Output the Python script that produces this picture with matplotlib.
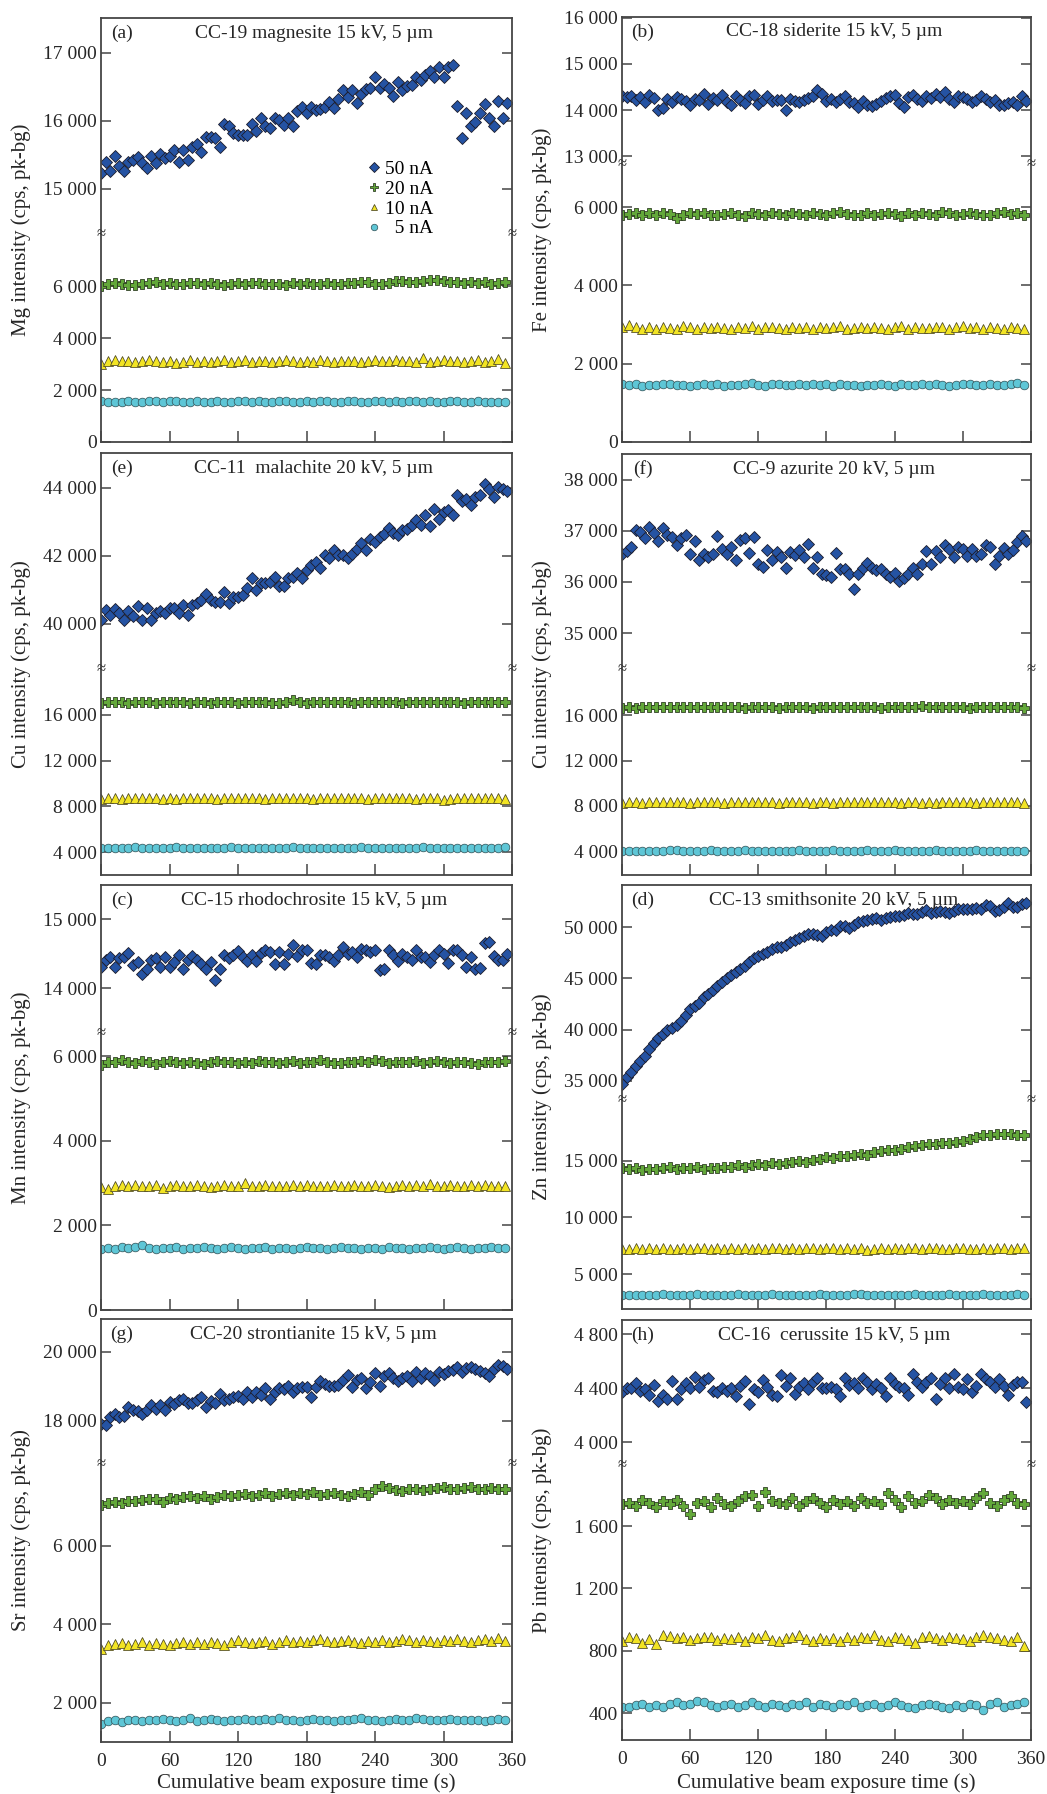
import numpy as np
import matplotlib.pyplot as plt
from matplotlib.lines import Line2D
from matplotlib.ticker import FuncFormatter

plt.rcParams['font.family'] = ['Liberation Serif', 'DejaVu Serif']

# sampling step of the time series (s)
STEP_HI = 4   # 50 nA
STEP_LO = 6   # 20, 10 and 5 nA

# (a) CC-19 magnesite, Mg
mg_50 = [15230, 15390, 15270, 15480, 15340, 15260, 15390, 15420, 15470, 15380,
         15310, 15490, 15380, 15520, 15450, 15480, 15570, 15400, 15570, 15430,
         15620, 15660, 15540, 15770, 15760, 15750, 15620, 15960, 15920, 15820,
         15800, 15790, 15800, 15960, 15850, 16040, 15920, 15900, 16040, 16010,
         15940, 16040, 15920, 16140, 16200, 16110, 16200, 16160, 16170, 16210,
         16280, 16190, 16320, 16450, 16350, 16450, 16260, 16400, 16470, 16480,
         16650, 16480, 16550, 16480, 16360, 16570, 16450, 16520, 16530, 16650,
         16600, 16670, 16740, 16650, 16800, 16650, 16790, 16830, 16220, 15750,
         16110, 15930, 15980, 16110, 16250, 16040, 15920, 16300, 16050, 16270]
mg_20 = [6000, 6080, 6100, 6060, 6050, 6040, 6080, 6120, 6150, 6070,
         6100, 6080, 6060, 6120, 6100, 6090, 6130, 6080, 6040, 6090,
         6110, 6070, 6100, 6120, 6080, 6060, 6090, 6050, 6100, 6080,
         6120, 6090, 6060, 6100, 6070, 6080, 6120, 6100, 6140, 6150,
         6080, 6060, 6120, 6180, 6200, 6160, 6150, 6190, 6230, 6240,
         6200, 6150, 6170, 6130, 6150, 6120, 6150, 6060, 6130, 6150]
mg_10 = [3000, 3120, 3140, 3100, 3110, 3060, 3130, 3160, 3120, 3080,
         3100, 3050, 3090, 3140, 3080, 3100, 3060, 3110, 3140, 3090,
         3100, 3150, 3090, 3110, 3130, 3080, 3110, 3140, 3100, 3090,
         3120, 3080, 3150, 3110, 3060, 3100, 3120, 3130, 3090, 3110,
         3140, 3120, 3100, 3160, 3110, 3130, 3090, 3220, 3080, 3120,
         3140, 3100, 3130, 3060, 3100, 3140, 3080, 3110, 3180, 3050]
mg_5 = [1560, 1540, 1550, 1530, 1570, 1550, 1540, 1560, 1580, 1550,
        1560, 1590, 1540, 1550, 1570, 1550, 1530, 1560, 1550, 1540,
        1570, 1590, 1550, 1560, 1540, 1550, 1560, 1570, 1550, 1540,
        1560, 1550, 1580, 1560, 1540, 1550, 1570, 1560, 1530, 1550,
        1580, 1560, 1550, 1570, 1540, 1560, 1580, 1550, 1560, 1540,
        1550, 1560, 1570, 1550, 1540, 1560, 1550, 1540, 1550, 1530]

# (b) CC-18 siderite, Fe
fe_50 = [14300, 14280, 14310, 14220, 14290, 14180, 14320, 14270, 14000, 14050,
         14250, 14170, 14280, 14230, 14200, 14110, 14250, 14210, 14340, 14140,
         14260, 14210, 14320, 14180, 14120, 14300, 14210, 14160, 14300, 14330,
         14130, 14220, 14300, 14190, 14210, 14220, 14000, 14250, 14200, 14180,
         14220, 14260, 14300, 14440, 14350, 14200, 14250, 14170, 14240, 14300,
         14180, 14150, 14060, 14200, 14100, 14090, 14130, 14200, 14270, 14300,
         14330, 14160, 14070, 14290, 14320, 14240, 14200, 14300, 14260, 14340,
         14280, 14400, 14250, 14180, 14300, 14290, 14250, 14180, 14210, 14300,
         14250, 14170, 14210, 14120, 14100, 14150, 14170, 14120, 14310, 14190]
fe_20 = [5800, 5830, 5860, 5810, 5850, 5790, 5840, 5820, 5730, 5810,
         5860, 5820, 5840, 5800, 5790, 5830, 5850, 5810, 5780, 5840,
         5820, 5800, 5850, 5830, 5790, 5860, 5820, 5810, 5850, 5830,
         5800, 5840, 5870, 5820, 5790, 5810, 5840, 5800, 5830, 5860,
         5820, 5780, 5840, 5810, 5850, 5830, 5800, 5880, 5840, 5810,
         5830, 5860, 5820, 5800, 5790, 5840, 5870, 5820, 5850, 5800]
fe_10 = [2950, 2980, 2940, 2900, 2930, 2880, 2950, 2920, 2900, 2960,
         2930, 2890, 2940, 2910, 2950, 2920, 2880, 2940, 2920, 2960,
         2900, 2930, 2950, 2910, 2880, 2930, 2920, 2950, 2900, 2940,
         2910, 2930, 2960, 2890, 2920, 2940, 2910, 2950, 2920, 2880,
         2930, 2960, 2900, 2940, 2920, 2910, 2950, 2930, 2890, 2940,
         2960, 2910, 2930, 2900, 2950, 2920, 2880, 2940, 2910, 2890]
fe_5 = [1480, 1460, 1470, 1440, 1460, 1450, 1470, 1480, 1450, 1460,
        1440, 1450, 1470, 1460, 1480, 1440, 1460, 1450, 1470, 1500,
        1450, 1440, 1470, 1480, 1460, 1450, 1470, 1460, 1490, 1450,
        1470, 1430, 1480, 1460, 1450, 1420, 1460, 1450, 1470, 1460,
        1440, 1470, 1460, 1450, 1490, 1460, 1470, 1450, 1440, 1460,
        1480, 1470, 1460, 1450, 1470, 1460, 1450, 1480, 1500, 1450]

# (e) CC-11 malachite, Cu
mal_50 = [40120, 40410, 40270, 40430, 40310, 40120, 40370, 40220, 40540, 40120,
          40460, 40120, 40310, 40370, 40310, 40460, 40460, 40310, 40560, 40270,
          40560, 40610, 40700, 40880, 40700, 40650, 40650, 40950, 40610, 40800,
          40780, 40850, 41050, 41340, 41000, 41190, 41190, 41240, 41390, 41100,
          41100, 41340, 41390, 41490, 41340, 41580, 41730, 41830, 41630, 42020,
          41930, 42170, 42020, 42020, 41930, 42070, 42200, 42370, 42170, 42510,
          42410, 42560, 42650, 42830, 42660, 42630, 42750, 42800, 42900, 43050,
          42900, 43200, 42880, 43390, 43100, 43300, 43350, 43200, 43780, 43630,
          43680, 43490, 43730, 43780, 44120, 43970, 43730, 44020, 43970, 43910]
mal_20 = [17050, 17150, 17100, 17120, 17080, 17160, 17100, 17130, 17070, 17110,
          17140, 17090, 17120, 17080, 17150, 17100, 17060, 17120, 17140, 17100,
          17080, 17130, 17110, 17150, 17090, 17000, 17060, 17120, 17300, 17090,
          17080, 17130, 17100, 17110, 17140, 17090, 17120, 17080, 17130, 17100,
          17150, 17090, 17110, 17120, 17080, 17140, 17100, 17130, 17120, 17090,
          17110, 17150, 17100, 17080, 17120, 17140, 17100, 17130, 17090, 17110]
mal_10 = [8650, 8700, 8720, 8680, 8700, 8750, 8690, 8710, 8730, 8680,
          8700, 8660, 8720, 8700, 8690, 8730, 8700, 8680, 8710, 8720,
          8700, 8690, 8740, 8700, 8680, 8720, 8710, 8690, 8730, 8700,
          8710, 8680, 8720, 8700, 8750, 8690, 8710, 8700, 8730, 8680,
          8720, 8700, 8690, 8740, 8700, 8710, 8680, 8720, 8700, 8690,
          8600, 8680, 8720, 8700, 8740, 8690, 8710, 8730, 8700, 8680]
mal_5 = [4380, 4400, 4390, 4370, 4400, 4410, 4380, 4390, 4400, 4370,
         4380, 4410, 4390, 4360, 4400, 4380, 4350, 4400, 4390, 4450,
         4380, 4370, 4400, 4390, 4380, 4400, 4370, 4390, 4410, 4380,
         4360, 4390, 4400, 4380, 4370, 4400, 4390, 4380, 4410, 4370,
         4390, 4400, 4380, 4360, 4390, 4400, 4380, 4410, 4390, 4370,
         4400, 4380, 4390, 4370, 4400, 4390, 4380, 4400, 4390, 4420]

# (f) CC-9 azurite, Cu
azu_50 = [36540, 36600, 36690, 37010, 36970, 36850, 37080, 36950, 36810, 37050,
          36920, 36880, 36720, 36850, 36920, 36540, 36810, 36430, 36540, 36480,
          36540, 36900, 36640, 36540, 36690, 36430, 36820, 36860, 36560, 36870,
          36350, 36290, 36630, 36430, 36580, 36480, 36270, 36580, 36520, 36620,
          36480, 36750, 36270, 36480, 36160, 36140, 36100, 36560, 36250, 36250,
          36160, 35860, 36160, 36270, 36370, 36270, 36230, 36250, 36160, 36100,
          36180, 36020, 36070, 36160, 36270, 36160, 36350, 36600, 36350, 36600,
          36480, 36730, 36650, 36480, 36690, 36640, 36510, 36640, 36510, 36540,
          36730, 36690, 36350, 36510, 36670, 36540, 36630, 36780, 36900, 36800]
azu_20 = [16650, 16700, 16680, 16720, 16700, 16730, 16690, 16710, 16740, 16700,
          16720, 16750, 16710, 16690, 16730, 16700, 16760, 16720, 16680, 16700,
          16710, 16740, 16690, 16620, 16700, 16730, 16750, 16710, 16680, 16700,
          16720, 16690, 16730, 16760, 16710, 16700, 16740, 16720, 16680, 16770,
          16700, 16720, 16690, 16730, 16780, 16710, 16700, 16740, 16760, 16720,
          16700, 16680, 16730, 16710, 16740, 16700, 16720, 16690, 16710, 16660]
azu_10 = [8250, 8300, 8320, 8290, 8310, 8300, 8330, 8380, 8320, 8300,
          8290, 8330, 8350, 8320, 8300, 8280, 8310, 8330, 8320, 8300,
          8340, 8360, 8310, 8290, 8300, 8320, 8330, 8300, 8280, 8310,
          8320, 8290, 8310, 8330, 8300, 8340, 8360, 8320, 8300, 8310,
          8330, 8290, 8310, 8340, 8280, 8320, 8250, 8310, 8330, 8300,
          8320, 8310, 8290, 8330, 8300, 8320, 8310, 8340, 8320, 8250]
azu_5 = [4050, 4060, 4050, 4040, 4060, 4050, 4060, 4100, 4080, 4050,
         4040, 4060, 4050, 4070, 4050, 4040, 4060, 4050, 4070, 4060,
         4040, 4050, 4060, 4030, 4050, 4060, 4070, 4050, 4040, 4060,
         4050, 4070, 4060, 4050, 4040, 4060, 4080, 4050, 4060, 4050,
         4070, 4060, 4040, 4050, 4060, 4050, 4070, 4060, 4050, 4040,
         4060, 4050, 4070, 4050, 4060, 4040, 4050, 4060, 4050, 4040]

# (c) CC-15 rhodochrosite, Mn
mn_50 = [14310, 14415, 14445, 14310, 14430, 14445, 14510, 14330, 14380, 14210,
         14280, 14415, 14430, 14310, 14445, 14310, 14380, 14475, 14280, 14415,
         14460, 14405, 14355, 14280, 14380, 14120, 14270, 14475, 14430, 14475,
         14540, 14445, 14395, 14475, 14395, 14510, 14550, 14525, 14355, 14525,
         14355, 14500, 14625, 14465, 14550, 14550, 14365, 14345, 14475, 14475,
         14445, 14395, 14475, 14600, 14500, 14525, 14445, 14575, 14550, 14525,
         14560, 14260, 14280, 14550, 14475, 14395, 14500, 14445, 14415, 14550,
         14445, 14445, 14380, 14475, 14550, 14500, 14365, 14550, 14560, 14475,
         14310, 14445, 14280, 14290, 14660, 14675, 14465, 14405, 14405, 14490]
mn_20 = [5800, 5870, 5850, 5900, 5860, 5830, 5880, 5850, 5820, 5860,
         5890, 5870, 5840, 5860, 5830, 5810, 5850, 5880, 5870, 5850,
         5840, 5860, 5830, 5890, 5850, 5870, 5840, 5860, 5880, 5830,
         5850, 5870, 5900, 5860, 5840, 5830, 5870, 5850, 5880, 5860,
         5910, 5880, 5830, 5870, 5850, 5860, 5880, 5840, 5870, 5890,
         5860, 5830, 5850, 5870, 5840, 5820, 5860, 5850, 5870, 5880]
mn_10 = [2900, 2870, 2920, 2950, 2930, 2960, 2940, 2920, 2950, 2890,
         2930, 2960, 2940, 2920, 2950, 2930, 2900, 2940, 2960, 2920,
         2930, 2990, 2940, 2920, 2950, 2930, 2940, 2920, 2950, 2930,
         2960, 2940, 2920, 2930, 2950, 2940, 2930, 2960, 2920, 2940,
         2950, 2930, 2910, 2940, 2960, 2930, 2950, 2920, 2970, 2940,
         2930, 2950, 2920, 2940, 2960, 2930, 2950, 2920, 2940, 2930]
mn_5 = [1440, 1470, 1450, 1480, 1460, 1490, 1530, 1460, 1450, 1470,
        1460, 1480, 1450, 1470, 1460, 1480, 1470, 1450, 1460, 1480,
        1460, 1450, 1470, 1460, 1480, 1450, 1470, 1460, 1450, 1470,
        1480, 1460, 1470, 1450, 1460, 1480, 1470, 1460, 1450, 1470,
        1460, 1450, 1480, 1460, 1470, 1440, 1460, 1470, 1480, 1460,
        1450, 1470, 1480, 1460, 1450, 1470, 1460, 1480, 1460, 1470]

# (d) CC-13 smithsonite, Zn
zn_50 = [34740, 35390, 35900, 36450, 36900, 37450, 38100, 38700, 39200, 39560,
         39950, 40200, 40450, 40800, 41400, 42000, 42350, 42570, 43150, 43450,
         43850, 44250, 44600, 45020, 45340, 45600, 45900, 46200, 46550, 46950,
         47200, 47350, 47550, 47850, 48040, 48100, 48250, 48550, 48750, 48900,
         49100, 49300, 49330, 49260, 49100, 49500, 49680, 49740, 50070, 50130,
         49900, 50200, 50450, 50600, 50680, 50780, 50880, 50720, 50880, 51000,
         51040, 51080, 51180, 51350, 51300, 51250, 51480, 51630, 51370, 51500,
         51600, 51500, 51380, 51600, 51800, 51800, 51760, 51760, 51860, 51720,
         52150, 52050, 51600, 51700, 51950, 52300, 51950, 52000, 52250, 52300]
zn_20 = [14400, 14250, 14350, 14200, 14300, 14250, 14350, 14450, 14300, 14400,
         14350, 14450, 14300, 14400, 14350, 14500, 14450, 14600, 14500, 14650,
         14700, 14650, 14800, 14750, 14850, 14900, 14950, 14900, 15050, 15200,
         15300, 15250, 15400, 15450, 15500, 15600, 15550, 15750, 15850, 15950,
         16000, 16050, 16200, 16300, 16400, 16450, 16500, 16550, 16600, 16700,
         16750, 16900, 17100, 17250, 17300, 17350, 17400, 17350, 17300, 17250]
zn_10 = [7200, 7250, 7280, 7230, 7260, 7240, 7270, 7250, 7220, 7260,
         7240, 7300, 7260, 7250, 7270, 7240, 7260, 7250, 7280, 7240,
         7260, 7230, 7320, 7260, 7250, 7270, 7240, 7260, 7280, 7250,
         7300, 7260, 7240, 7270, 7250, 7260, 7150, 7240, 7270, 7250,
         7260, 7240, 7280, 7260, 7250, 7330, 7270, 7250, 7240, 7260,
         7270, 7250, 7240, 7260, 7230, 7280, 7260, 7250, 7270, 7260]
zn_5 = [3150, 3180, 3160, 3190, 3170, 3160, 3230, 3180, 3170, 3190,
        3160, 3200, 3180, 3170, 3190, 3180, 3160, 3200, 3180, 3170,
        3190, 3180, 3200, 3170, 3180, 3160, 3190, 3180, 3170, 3200,
        3180, 3190, 3170, 3180, 3200, 3240, 3180, 3170, 3190, 3180,
        3170, 3190, 3180, 3200, 3170, 3190, 3180, 3170, 3200, 3190,
        3180, 3170, 3190, 3200, 3180, 3170, 3190, 3180, 3200, 3170]

# (g) CC-20 strontianite, Sr
sr_50 = [17920, 17870, 18120, 18200, 18100, 18140, 18410, 18310, 18290, 18210,
         18330, 18460, 18360, 18460, 18310, 18560, 18490, 18610, 18630, 18510,
         18530, 18600, 18690, 18410, 18590, 18510, 18780, 18610, 18630, 18700,
         18730, 18630, 18850, 18690, 18850, 18750, 18950, 18630, 18850, 18950,
         18920, 19010, 18850, 18950, 18980, 18980, 18690, 18980, 19150, 19080,
         19010, 19010, 19050, 19200, 19340, 18990, 19190, 19240, 18950, 19120,
         19390, 19010, 19300, 19390, 19240, 19170, 19240, 19310, 19170, 19410,
         19240, 19390, 19290, 19190, 19410, 19370, 19440, 19470, 19570, 19410,
         19540, 19570, 19500, 19440, 19390, 19310, 19510, 19610, 19590, 19510]
sr_20 = [7050, 7100, 7120, 7080, 7140, 7130, 7160, 7200, 7180, 7110,
         7220, 7200, 7240, 7260, 7230, 7280, 7200, 7250, 7300, 7260,
         7290, 7320, 7260, 7300, 7340, 7280, 7320, 7350, 7300, 7340,
         7310, 7360, 7300, 7320, 7340, 7300, 7280, 7330, 7360, 7300,
         7450, 7520, 7480, 7420, 7400, 7440, 7460, 7420, 7450, 7480,
         7500, 7460, 7440, 7480, 7500, 7460, 7440, 7470, 7450, 7460]
sr_10 = [3380, 3480, 3500, 3520, 3460, 3500, 3540, 3480, 3520, 3500,
         3470, 3530, 3560, 3510, 3540, 3500, 3560, 3520, 3480, 3540,
         3600, 3560, 3520, 3540, 3580, 3500, 3560, 3600, 3540, 3580,
         3560, 3600, 3620, 3570, 3540, 3580, 3600, 3560, 3520, 3580,
         3560, 3600, 3550, 3580, 3620, 3600, 3560, 3610, 3580, 3560,
         3600, 3570, 3620, 3580, 3550, 3600, 3620, 3580, 3640, 3580]
sr_5 = [1470, 1540, 1560, 1500, 1560, 1570, 1540, 1560, 1550, 1580,
        1560, 1540, 1570, 1600, 1530, 1550, 1590, 1560, 1540, 1570,
        1560, 1580, 1550, 1560, 1590, 1570, 1600, 1560, 1570, 1540,
        1560, 1580, 1550, 1560, 1540, 1570, 1560, 1580, 1610, 1560,
        1570, 1540, 1560, 1580, 1560, 1550, 1620, 1580, 1560, 1570,
        1550, 1580, 1560, 1570, 1560, 1550, 1530, 1570, 1580, 1550]

# (h) CC-16 cerussite, Pb
pb_50 = [4373, 4398, 4398, 4437, 4380, 4390, 4348, 4422, 4306, 4348,
         4316, 4454, 4321, 4390, 4437, 4398, 4484, 4405, 4462, 4472,
         4380, 4368, 4398, 4380, 4398, 4338, 4417, 4454, 4281, 4390,
         4373, 4462, 4405, 4348, 4343, 4497, 4417, 4472, 4356, 4405,
         4437, 4390, 4444, 4477, 4398, 4398, 4405, 4390, 4338, 4477,
         4422, 4437, 4398, 4477, 4442, 4390, 4427, 4398, 4338, 4472,
         4427, 4410, 4398, 4348, 4504, 4444, 4410, 4444, 4477, 4316,
         4427, 4472, 4398, 4504, 4410, 4390, 4467, 4373, 4417, 4504,
         4467, 4442, 4405, 4467, 4417, 4348, 4422, 4444, 4444, 4293]
pb_20 = [1740, 1750, 1730, 1770, 1750, 1720, 1760, 1740, 1770, 1730,
         1680, 1750, 1760, 1720, 1780, 1740, 1730, 1760, 1790, 1800,
         1730, 1820, 1760, 1750, 1740, 1780, 1730, 1760, 1780, 1750,
         1720, 1770, 1740, 1760, 1730, 1780, 1750, 1760, 1740, 1810,
         1770, 1720, 1790, 1750, 1760, 1800, 1780, 1740, 1770, 1750,
         1760, 1740, 1780, 1810, 1750, 1730, 1770, 1790, 1750, 1740]
pb_10 = [860, 890, 880, 850, 875, 840, 900, 895, 880, 885,
         870, 880, 890, 885, 870, 880, 875, 885, 860, 890,
         880, 900, 870, 860, 880, 890, 900, 875, 860, 880,
         870, 880, 860, 885, 870, 890, 880, 900, 870, 860,
         890, 880, 870, 850, 885, 895, 880, 870, 890, 880,
         875, 860, 890, 900, 885, 880, 870, 860, 885, 830]
pb_5 = [440, 440, 450, 460, 440, 450, 440, 460, 470, 450,
        460, 480, 470, 450, 440, 450, 460, 440, 450, 470,
        450, 440, 460, 450, 440, 460, 450, 470, 440, 460,
        450, 440, 460, 450, 470, 440, 450, 460, 440, 450,
        470, 450, 440, 430, 450, 460, 450, 440, 430, 450,
        440, 460, 450, 420, 460, 470, 440, 450, 460, 470]

currents = ['50 nA', '20 nA', '10 nA', '  5 nA']

W, H = 1047, 1794
COLS = [(101, 512), (622, 1031)]
SPINE = '#454545'
STYLES = [
    dict(marker='D', ms=6.6, mfc='#2553a3', mec='#1b1b2a', mew=0.6),
    dict(marker='P', ms=7.4, mfc='#63a83a', mec='#26331c', mew=0.55),
    dict(marker='^', ms=6.6, mfc='#f2e424', mec='#4a4520', mew=0.55),
    dict(marker='o', ms=6.2, mfc='#5ec6d6', mec='#35595f', mew=0.55),
]

# col, (top, break, bottom) in px, upper ylim, lower ylim, ticks, texts, data
panels = [
    dict(col=0, rows=(18, 233, 442), ylim_hi=(14350, 17515), ylim_lo=(0, 8040),
         ticks_hi=[15000, 16000, 17000], ticks_lo=[0, 2000, 4000, 6000],
         tag='(a)', title='CC-19 magnesite 15 kV, 5 µm',
         ylabel='Mg intensity (cps, pk-bg)', data=[mg_50, mg_20, mg_10, mg_5]),
    dict(col=1, rows=(17, 163, 442), ylim_hi=(12850, 16020), ylim_lo=(0, 7130),
         ticks_hi=[13000, 14000, 15000, 16000], ticks_lo=[0, 2000, 4000, 6000],
         tag='(b)', title='CC-18 siderite 15 kV, 5 µm',
         ylabel='Fe intensity (cps, pk-bg)', data=[fe_50, fe_20, fe_10, fe_5]),
    dict(col=0, rows=(453, 668, 875), ylim_hi=(38700, 45030), ylim_lo=(2000, 20100),
         ticks_hi=[40000, 42000, 44000], ticks_lo=[4000, 8000, 12000, 16000],
         tag='(e)', title='CC-11  malachite 20 kV, 5 µm',
         ylabel='Cu intensity (cps, pk-bg)', data=[mal_50, mal_20, mal_10, mal_5]),
    dict(col=1, rows=(454, 668, 875), ylim_hi=(34320, 38500), ylim_lo=(1900, 20170),
         ticks_hi=[35000, 36000, 37000, 38000], ticks_lo=[4000, 8000, 12000, 16000],
         tag='(f)', title='CC-9 azurite 20 kV, 5 µm',
         ylabel='Cu intensity (cps, pk-bg)', data=[azu_50, azu_20, azu_10, azu_5]),
    dict(col=0, rows=(885, 1032, 1310), ylim_hi=(13360, 15500), ylim_lo=(0, 6570),
         ticks_hi=[14000, 15000], ticks_lo=[0, 2000, 4000, 6000],
         tag='(c)', title='CC-15 rhodochrosite 15 kV, 5 µm',
         ylabel='Mn intensity (cps, pk-bg)', data=[mn_50, mn_20, mn_10, mn_5]),
    dict(col=1, rows=(885, 1099, 1309), ylim_hi=(33240, 54100), ylim_lo=(1910, 20470),
         ticks_hi=[35000, 40000, 45000, 50000], ticks_lo=[5000, 10000, 15000],
         tag='(d)', title='CC-13 smithsonite 20 kV, 5 µm',
         ylabel='Zn intensity (cps, pk-bg)', data=[zn_50, zn_20, zn_10, zn_5]),
    dict(col=0, rows=(1319, 1463, 1742), ylim_hi=(16780, 20957), ylim_lo=(1000, 8110),
         ticks_hi=[18000, 20000], ticks_lo=[2000, 4000, 6000],
         tag='(g)', title='CC-20 strontianite 15 kV, 5 µm',
         ylabel='Sr intensity (cps, pk-bg)', data=[sr_50, sr_20, sr_10, sr_5]),
    dict(col=1, rows=(1320, 1464, 1740), ylim_hi=(3837, 4904), ylim_lo=(227, 1998),
         ticks_hi=[4000, 4400, 4800], ticks_lo=[400, 800, 1200, 1600],
         tag='(h)', title='CC-16  cerussite 15 kV, 5 µm',
         ylabel='Pb intensity (cps, pk-bg)', data=[pb_50, pb_20, pb_10, pb_5]),
]

fig = plt.figure(figsize=(W / 100, H / 100), dpi=100)
fmt = FuncFormatter(lambda v, p: f"{int(round(v)):,}".replace(",", " "))


def px_axes(left, right, top, bottom):
    return fig.add_axes([left / W, 1 - bottom / H, (right - left) / W, (bottom - top) / H])


for p in panels:
    left, right = COLS[p['col']]
    top, brk, bottom = p['rows']
    ax_hi = px_axes(left, right, top, brk)
    ax_lo = px_axes(left, right, brk, bottom)

    s50 = p['data'][0]
    ax_hi.plot(STEP_HI * np.arange(len(s50)), s50, ls='none', **STYLES[0])
    for vals, st in zip(p['data'][1:], STYLES[1:]):
        ax_lo.plot(STEP_LO * np.arange(len(vals)), vals, ls='none', **st)

    for ax, lim, ticks in ((ax_hi, p['ylim_hi'], p['ticks_hi']),
                           (ax_lo, p['ylim_lo'], p['ticks_lo'])):
        ax.set_xlim(0, 360)
        ax.set_ylim(*lim)
        ax.set_yticks(ticks)
        ax.yaxis.set_major_formatter(fmt)
        ax.set_xticks(range(0, 361, 60))
        ax.tick_params(direction='in', length=7, width=1.1, color=SPINE,
                       labelsize=14, labelcolor='#262626', right=True, top=False, pad=3)
        for sp in ax.spines.values():
            sp.set_color(SPINE)
            sp.set_linewidth(1.3)
    ax_hi.spines['bottom'].set_visible(False)
    ax_lo.spines['top'].set_visible(False)
    ax_hi.tick_params(axis='x', bottom=False, labelbottom=False)
    ax_lo.tick_params(axis='x', length=8, labelbottom=p['rows'][2] > 1700, pad=8)

    # break marks on both spines
    for xs in (left, right):
        fig.text(xs / W, 1 - (brk + 1) / H, '≈', ha='center', va='center',
                 fontsize=12, color='#333333')

    fig.text((left + 21) / W, 1 - (top + 15) / H, p['tag'], ha='center', va='center',
             fontsize=14, color='#262626')
    fig.text((left + right) / 2 / W + 0.007, 1 - (top + 15) / H, p['title'],
             ha='center', va='center', fontsize=14, color='#262626')
    fig.text((left - 80) / W, 1 - (top + bottom) / 2 / H, p['ylabel'], rotation=90,
             ha='center', va='center', fontsize=15, color='#262626')
    if bottom > 1700:
        fig.text((left + right) / 2 / W, 1 - 1783 / H, 'Cumulative beam exposure time (s)',
                 ha='center', va='center', fontsize=15, color='#262626')

handles = [Line2D([], [], ls='none', marker=st['marker'], ms=st['ms'] * 0.75, mfc=st['mfc'],
                  mec=st['mec'], mew=st['mew']) for st in STYLES]
fig.legend(handles, currents, loc='upper left', bbox_to_anchor=(368 / W, 1 - 160 / H),
           frameon=False, fontsize=14, handlelength=0.6, handletextpad=0.25,
           labelspacing=0.12, borderpad=0, borderaxespad=0)

fig.savefig('out.png', dpi=100)
